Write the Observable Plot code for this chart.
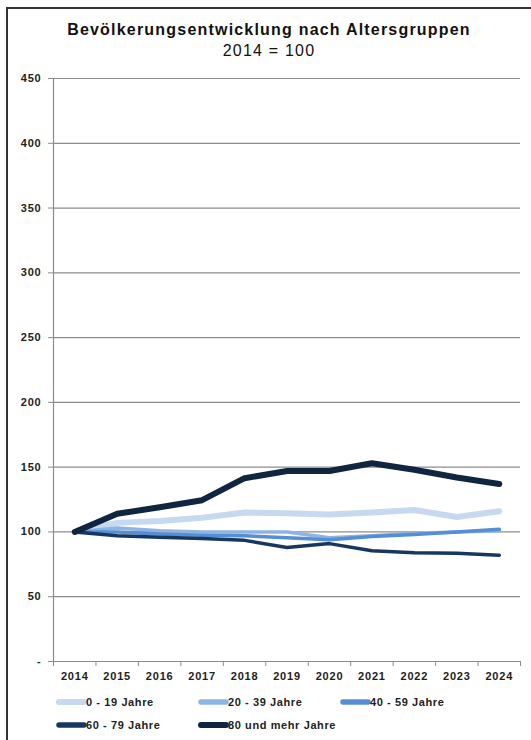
<!DOCTYPE html>
<html><head><meta charset="utf-8">
<script src="https://cdn.jsdelivr.net/npm/d3@7"></script>
<script src="https://cdn.jsdelivr.net/npm/@observablehq/plot@0.6"></script>
<style>
html,body{margin:0;padding:0;background:#fff;overflow:hidden;}
body{width:531px;height:740px;position:relative;font-family:"Liberation Sans",Arial,sans-serif;}
#frame{position:absolute;left:6px;top:7px;width:600px;height:800px;border-left:2px solid #333;border-top:2px solid #333;box-sizing:border-box;}
#chart{position:absolute;left:0;top:0;}
#title{position:absolute;left:0;width:538px;top:21px;text-align:center;font-weight:bold;font-size:16px;letter-spacing:1.2px;color:#111;}
#subtitle{position:absolute;left:0;width:538px;top:42px;text-align:center;font-size:16px;letter-spacing:1.2px;color:#111;}
#legend{position:absolute;left:55px;top:690px;width:430px;display:flex;flex-wrap:wrap;}
.item{width:142px;height:23px;display:flex;align-items:center;font-size:11px;font-weight:bold;letter-spacing:0.6px;color:#222;white-space:nowrap;overflow:visible;}
.item svg{flex:none;}
.item span{margin-left:-2px;flex:none;}
</style>
</head><body>
<div id="frame"></div>
<div id="chart"></div>
<div id="title">Bevölkerungsentwicklung nach Altersgruppen</div>
<div id="subtitle">2014 = 100</div>
<div id="legend"></div>
<script>
const years = [2014, 2015, 2016, 2017, 2018, 2019, 2020, 2021, 2022, 2023, 2024];
const a0_19  = [100, 107, 108.5, 111, 115, 114.5, 113.5, 115, 117, 111.5, 116];
const a20_39 = [100, 103, 101, 100, 100, 100, 95.5, 97, 99, 100, 101];
const a40_59 = [100, 100, 98.5, 97.5, 97, 95.5, 94, 96.5, 98, 100, 102];
const a60_79 = [100, 97, 96, 95, 93.5, 88, 91, 85.5, 84, 83.5, 82];
const a80    = [100, 114, 119, 124.5, 141.5, 147, 147, 153, 148, 142, 137];
const seriesNames = ["0 - 19 Jahre", "20 - 39 Jahre", "40 - 59 Jahre", "60 - 79 Jahre", "80 und mehr Jahre"];
const seriesValues = [a0_19, a20_39, a40_59, a60_79, a80];
const seriesColors = ["#c6d9f1", "#8eb4e3", "#558ed5", "#17375e", "#0f2540"];
const seriesWidths = [6, 3.5, 3.5, 3.5, 6];
const yTicks = [0, 50, 100, 150, 200, 250, 300, 350, 400, 450];

const rows = seriesValues.flatMap((vals, i) => vals.map((v, j) => ({year: years[j], value: v, series: seriesNames[i]})));
const bounds = years.map(y => y - 0.5).concat([years[years.length - 1] + 0.5]);
const gridColor = "#8c8c8c";

const lineMarks = seriesNames.map((name, i) =>
  Plot.line(rows.filter(r => r.series === name), {
    x: "year", y: "value", stroke: seriesColors[i], strokeWidth: seriesWidths[i],
    strokeLinecap: "round", strokeLinejoin: "round"
  })
);

const plot = Plot.plot({
  width: 531, height: 690,
  marginLeft: 53, marginRight: 11, marginTop: 78, marginBottom: 29,
  style: {fontFamily: "'Liberation Sans', Arial, sans-serif", fontSize: "11px", fontWeight: "bold", color: "#222", background: "transparent", letterSpacing: "0.8px"},
  x: {type: "linear", domain: [bounds[0], bounds[bounds.length - 1]]},
  y: {domain: [0, 450]},
  marks: [
    Plot.gridY(yTicks, {stroke: gridColor, strokeOpacity: 1, strokeWidth: 1.2}),
    Plot.axisY(yTicks, {tickSize: 5, tickPadding: 7, tickFormat: d => d === 0 ? "-" : String(d), label: null, stroke: gridColor, fill: "#222"}),
    Plot.axisX(bounds, {tickSize: 5, tickFormat: () => "", label: null, stroke: gridColor}),
    Plot.axisX(years, {tickSize: 0, tickPadding: 11, tickFormat: d => String(d), label: null, fill: "#222"}),
    Plot.ruleX([bounds[0]], {stroke: gridColor, strokeWidth: 1.2}),
    Plot.ruleY([0], {stroke: gridColor, strokeWidth: 1.2}),
    ...lineMarks
  ]
});
document.getElementById("chart").appendChild(plot);

const legend = document.getElementById("legend");
seriesNames.forEach((name, i) => {
  const item = document.createElement("div");
  item.className = "item";
  const w = seriesWidths[i] > 4 ? 6 : 5.5;
  item.innerHTML = `<svg width="33" height="10"><line x1="4" y1="5" x2="29" y2="5" stroke="${seriesColors[i]}" stroke-width="${w}" stroke-linecap="round"/></svg><span>${name}</span>`;
  legend.appendChild(item);
});
</script>
</body></html>
